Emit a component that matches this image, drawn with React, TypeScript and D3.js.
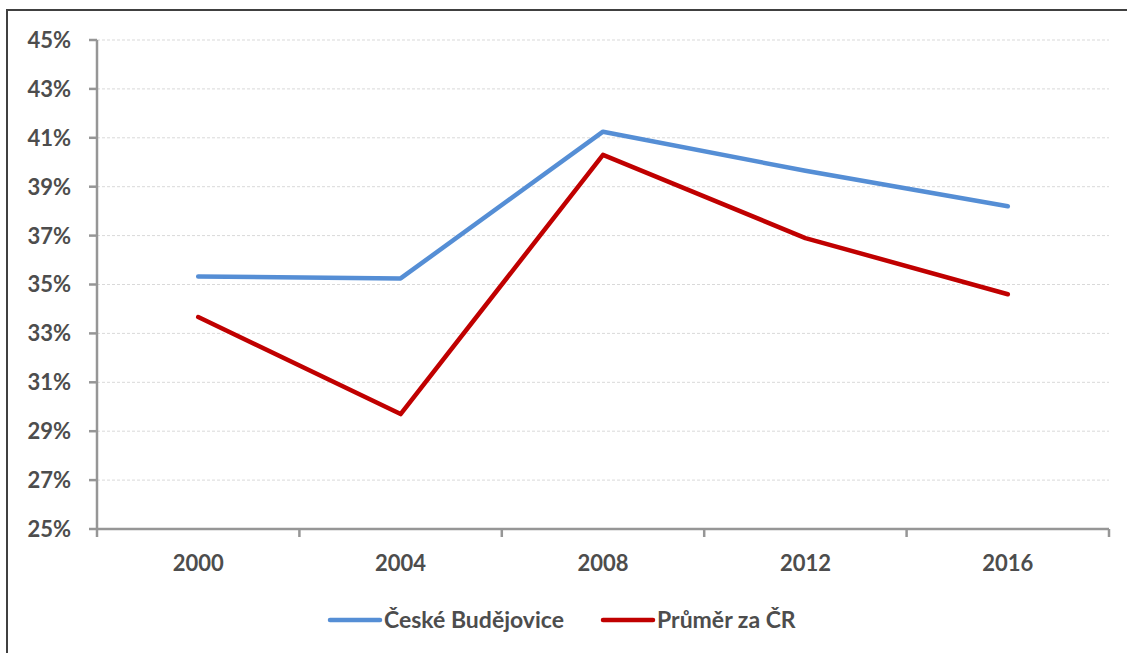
import React from "react";
import * as d3 from "d3";

const years = ["2000", "2004", "2008", "2012", "2016"];
const budejovice = [35.33, 35.25, 41.25, 39.65, 38.2];
const prumerCR = [33.67, 29.7, 40.3, 36.9, 34.6];
const yTicks = [25, 27, 29, 31, 33, 35, 37, 39, 41, 43, 45];
const seriesNames = ["České Budějovice", "Průměr za ČR"];
const seriesColors = ["#558ED5", "#C00000"];

const W = 1127;
const H = 653;
const left = 97;
const right = 1109;
const top = 40;
const bottom = 529;
const font = "Lato, 'Open Sans', sans-serif";
const textColor = "#4d4d4d";
const axisColor = "#969696";

export default function App() {
  const x = d3.scaleBand<string>().domain(years).range([left, right]);
  const y = d3.scaleLinear().domain([25, 45]).range([bottom, top]);
  const line = d3
    .line<number>()
    .x((_, i) => (x(years[i]) as number) + x.bandwidth() / 2)
    .y((d) => y(d));
  const series = [budejovice, prumerCR];
  const boundaries = years.map((yr) => x(yr) as number).concat([right]);

  return (
    <svg
      width={W}
      height={H}
      style={{ position: "absolute", left: 0, top: 0, display: "block" }}
    >
      <rect x={0} y={0} width={W} height={H} fill="#fff" />
      <rect x={7} y={10} width={1140} height={680} fill="none" stroke="#404040" strokeWidth={2} />
      {yTicks.slice(1).map((t) => (
        <line
          key={"g" + t}
          x1={left}
          x2={right}
          y1={y(t)}
          y2={y(t)}
          stroke="#d9d9d9"
          strokeWidth={1}
          strokeDasharray="3,2"
        />
      ))}
      {/* y axis */}
      <line x1={left} x2={left} y1={top} y2={bottom} stroke={axisColor} strokeWidth={2.5} />
      {yTicks.map((t) => (
        <g key={"y" + t}>
          <line x1={left - 8} x2={left} y1={y(t)} y2={y(t)} stroke={axisColor} strokeWidth={2.5} />
          <text
            x={71}
            y={y(t)}
            dy="0.36em"
            textAnchor="end"
            fontFamily={font}
            fontWeight="bold"
            fontSize={22}
            fill={textColor}
          >
            {t}%
          </text>
        </g>
      ))}
      {/* x axis */}
      <line x1={left} x2={right} y1={bottom} y2={bottom} stroke={axisColor} strokeWidth={2.5} />
      {boundaries.map((bx, i) => (
        <line key={"xt" + i} x1={bx} x2={bx} y1={bottom} y2={bottom + 8} stroke={axisColor} strokeWidth={2.5} />
      ))}
      {years.map((yr) => (
        <text
          key={"xl" + yr}
          x={(x(yr) as number) + x.bandwidth() / 2}
          y={563}
          dy="0.36em"
          textAnchor="middle"
          fontFamily={font}
          fontWeight="bold"
          fontSize={22}
          fill={textColor}
        >
          {yr}
        </text>
      ))}
      {series.map((s, i) => (
        <path
          key={"s" + i}
          d={line(s) || ""}
          fill="none"
          stroke={seriesColors[i]}
          strokeWidth={4.5}
          strokeLinejoin="round"
          strokeLinecap="round"
        />
      ))}
      {/* legend */}
      {[330, 603].map((lx, i) => (
        <g key={"lg" + i}>
          <line x1={lx} x2={lx + 50} y1={620} y2={620} stroke={seriesColors[i]} strokeWidth={4.5} strokeLinecap="round" />
          <text
            x={lx + 54}
            y={620}
            dy="0.36em"
            fontFamily={font}
            fontWeight="bold"
            fontSize={23}
            fill={textColor}
          >
            {seriesNames[i]}
          </text>
        </g>
      ))}
    </svg>
  );
}
